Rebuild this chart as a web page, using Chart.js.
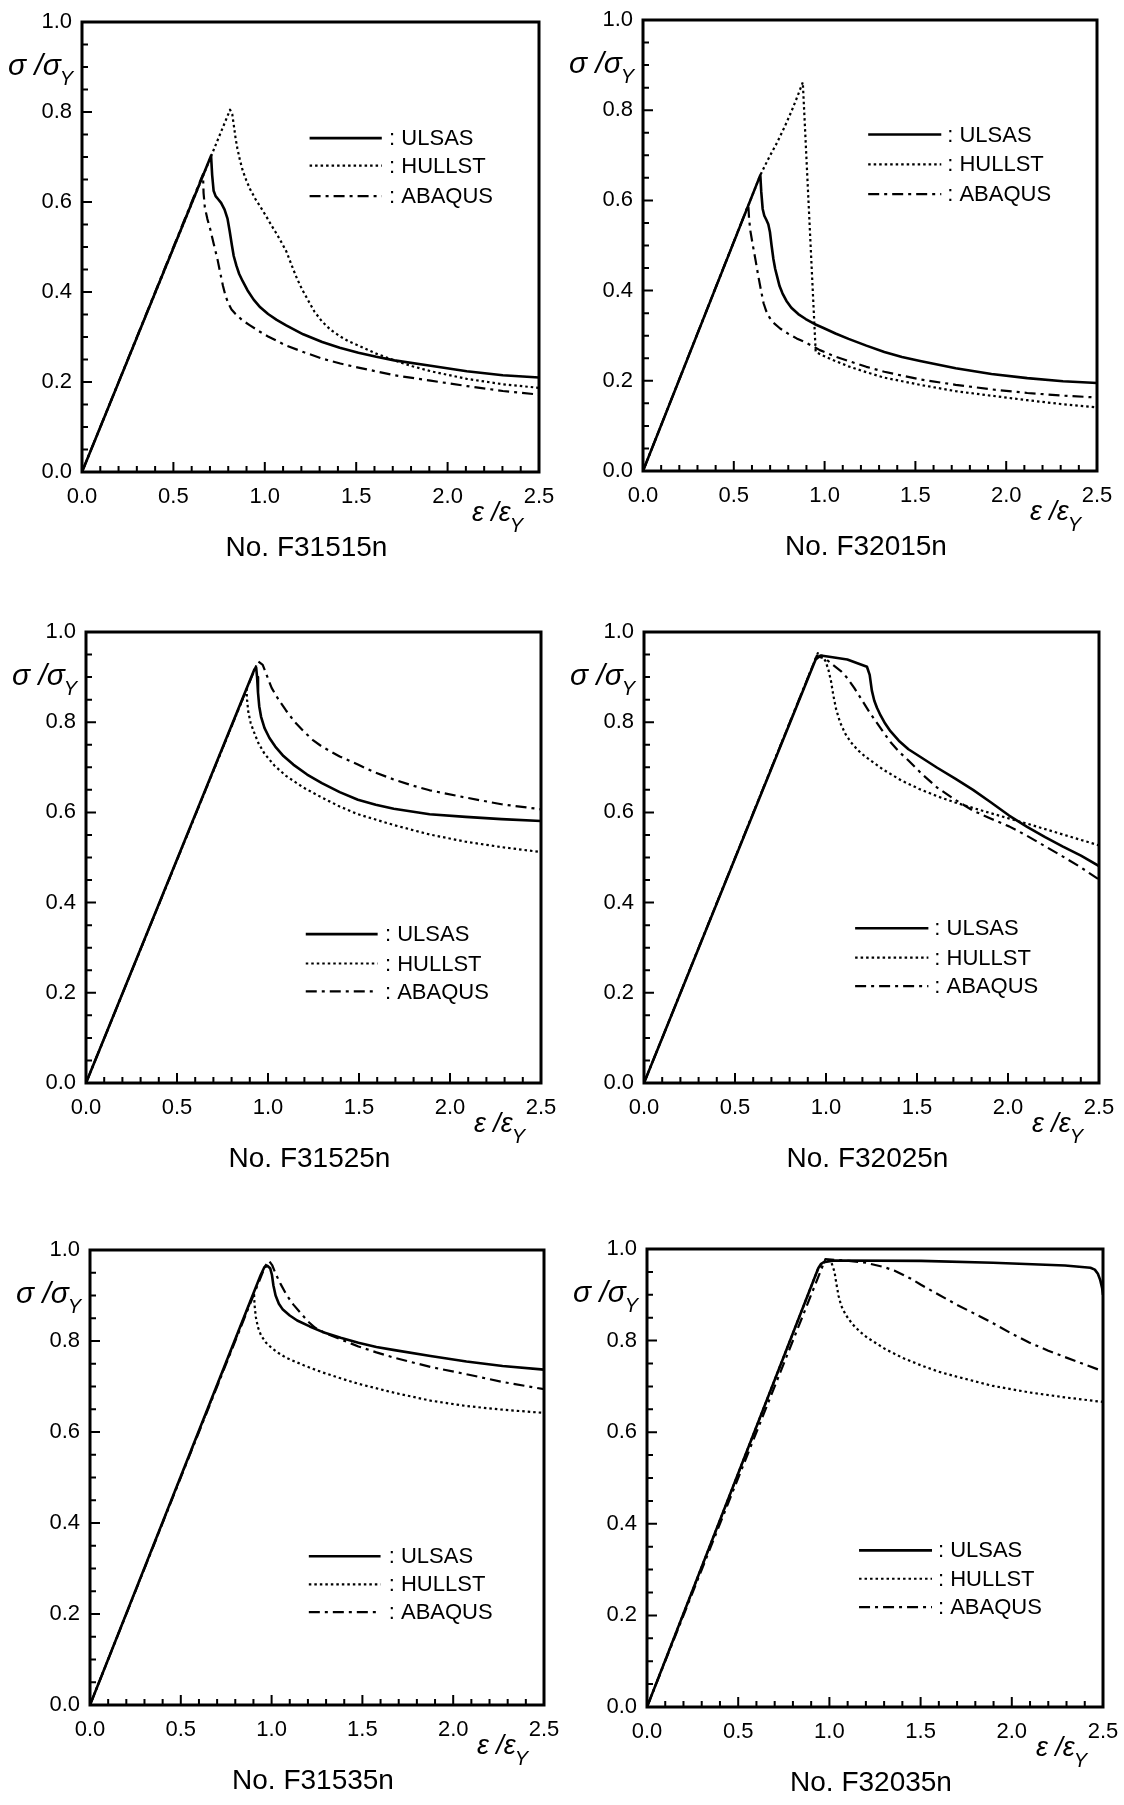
<!DOCTYPE html>
<html><head><meta charset="utf-8">
<script src="https://cdn.jsdelivr.net/npm/chart.js@4.4.1/dist/chart.umd.min.js"></script>
<style>
html,body{margin:0;padding:0;background:#fff;}
body{width:1124px;height:1805px;position:relative;overflow:hidden;}
canvas{position:absolute;}
</style></head><body>
<script>
// ---------- data ----------
const panelTitles = ['No. F31515n','No. F32015n','No. F31525n','No. F32025n','No. F31535n','No. F32035n'];
const seriesNames = ['ULSAS','HULLST','ABAQUS'];
const xTickValues = [0,0.5,1.0,1.5,2.0,2.5];
const yTickValues = [0,0.2,0.4,0.6,0.8,1.0];

const F31515n_ULSAS = [[0,0],[0.706,0.703],[0.712,0.66],[0.720,0.625],[0.731,0.613],[0.745,0.606],[0.761,0.598],[0.780,0.583],[0.796,0.563],[0.808,0.535],[0.820,0.504],[0.830,0.480],[0.845,0.458],[0.860,0.440],[0.879,0.424],[0.905,0.404],[0.939,0.383],[0.975,0.366],[1.018,0.351],[1.065,0.338],[1.117,0.326],[1.210,0.306],[1.314,0.289],[1.410,0.276],[1.512,0.265],[1.610,0.256],[1.709,0.248],[1.907,0.236],[2.105,0.224],[2.302,0.215],[2.5,0.21]];
const F31515n_HULLST = [[0,0],[0.81,0.805],[0.822,0.795],[0.830,0.772],[0.840,0.742],[0.850,0.719],[0.864,0.693],[0.879,0.670],[0.899,0.648],[0.919,0.629],[0.948,0.607],[0.978,0.588],[1.008,0.568],[1.038,0.547],[1.068,0.527],[1.097,0.506],[1.118,0.490],[1.136,0.471],[1.156,0.450],[1.176,0.430],[1.205,0.405],[1.235,0.383],[1.272,0.356],[1.314,0.334],[1.360,0.316],[1.413,0.301],[1.460,0.290],[1.512,0.281],[1.610,0.263],[1.709,0.248],[1.807,0.235],[1.907,0.224],[2.105,0.207],[2.302,0.195],[2.5,0.187]];
const F31515n_ABAQUS = [[0,0],[0.662,0.662],[0.665,0.620],[0.672,0.588],[0.686,0.562],[0.702,0.539],[0.720,0.508],[0.741,0.473],[0.757,0.441],[0.771,0.414],[0.785,0.392],[0.800,0.375],[0.818,0.361],[0.840,0.351],[0.878,0.337],[0.919,0.326],[0.968,0.313],[1.018,0.301],[1.117,0.281],[1.215,0.266],[1.314,0.252],[1.413,0.241],[1.512,0.232],[1.709,0.215],[1.907,0.203],[2.105,0.191],[2.302,0.180],[2.5,0.172]];

const F32015n_ULSAS = [[0,0],[0.646,0.656],[0.651,0.620],[0.659,0.581],[0.668,0.566],[0.679,0.557],[0.690,0.547],[0.699,0.530],[0.708,0.500],[0.718,0.470],[0.728,0.448],[0.738,0.432],[0.752,0.410],[0.768,0.394],[0.790,0.377],[0.817,0.362],[0.855,0.348],[0.896,0.337],[0.944,0.326],[0.994,0.317],[1.060,0.305],[1.132,0.293],[1.230,0.278],[1.329,0.264],[1.426,0.253],[1.526,0.244],[1.722,0.228],[1.919,0.215],[2.116,0.206],[2.313,0.199],[2.5,0.195]];
const F32015n_HULLST = [[0,0],[0.646,0.656],[0.690,0.692],[0.738,0.728],[0.780,0.763],[0.817,0.797],[0.850,0.830],[0.880,0.862],[0.951,0.264],[0.990,0.256],[1.034,0.248],[1.132,0.232],[1.230,0.219],[1.329,0.207],[1.526,0.191],[1.722,0.177],[1.919,0.167],[2.116,0.157],[2.313,0.148],[2.5,0.141]];
const F32015n_ABAQUS = [[0,0],[0.58,0.59],[0.584,0.560],[0.591,0.533],[0.605,0.500],[0.620,0.467],[0.635,0.432],[0.650,0.400],[0.664,0.372],[0.679,0.354],[0.697,0.340],[0.718,0.329],[0.755,0.316],[0.797,0.305],[0.846,0.294],[0.896,0.285],[0.974,0.268],[1.050,0.255],[1.132,0.244],[1.230,0.231],[1.329,0.220],[1.526,0.203],[1.722,0.191],[1.919,0.181],[2.116,0.173],[2.313,0.167],[2.5,0.163]];

const F31525n_ULSAS = [[0,0],[0.925,0.917],[0.935,0.921],[0.940,0.900],[0.945,0.866],[0.952,0.835],[0.962,0.812],[0.981,0.787],[1.008,0.765],[1.040,0.746],[1.085,0.725],[1.139,0.706],[1.215,0.684],[1.296,0.665],[1.394,0.645],[1.494,0.628],[1.592,0.617],[1.691,0.608],[1.888,0.596],[2.086,0.590],[2.283,0.585],[2.5,0.581]];
const F31525n_HULLST = [[0,0],[0.882,0.872],[0.885,0.850],[0.892,0.822],[0.905,0.798],[0.922,0.779],[0.948,0.753],[0.981,0.730],[1.035,0.704],[1.099,0.681],[1.195,0.655],[1.296,0.633],[1.394,0.613],[1.494,0.596],[1.691,0.572],[1.888,0.551],[2.086,0.535],[2.283,0.523],[2.5,0.512]];
const F31525n_ABAQUS = [[0,0],[0.945,0.935],[0.971,0.927],[0.995,0.902],[1.020,0.876],[1.058,0.850],[1.099,0.826],[1.148,0.800],[1.198,0.779],[1.245,0.761],[1.296,0.746],[1.394,0.724],[1.494,0.706],[1.592,0.688],[1.691,0.673],[1.790,0.660],[1.888,0.649],[2.086,0.633],[2.283,0.618],[2.5,0.607]];

const F32025n_ULSAS = [[0,0],[0.943,0.939],[0.97,0.948],[1.018,0.945],[1.117,0.939],[1.225,0.923],[1.240,0.905],[1.252,0.870],[1.265,0.848],[1.280,0.832],[1.300,0.815],[1.325,0.797],[1.354,0.780],[1.400,0.759],[1.453,0.740],[1.530,0.720],[1.611,0.699],[1.710,0.675],[1.808,0.650],[1.907,0.622],[2.006,0.593],[2.105,0.568],[2.204,0.545],[2.302,0.524],[2.401,0.504],[2.5,0.481]];
const F32025n_HULLST = [[0,0],[0.955,0.953],[0.980,0.947],[0.998,0.935],[1.014,0.915],[1.028,0.890],[1.040,0.860],[1.055,0.830],[1.077,0.800],[1.105,0.775],[1.136,0.756],[1.175,0.738],[1.215,0.724],[1.314,0.695],[1.413,0.671],[1.512,0.652],[1.610,0.636],[1.709,0.622],[1.807,0.610],[1.907,0.598],[2.105,0.575],[2.302,0.551],[2.5,0.527]];
const F32025n_ABAQUS = [[0,0],[0.949,0.947],[1.000,0.940],[1.038,0.927],[1.080,0.914],[1.117,0.898],[1.155,0.876],[1.196,0.850],[1.236,0.824],[1.275,0.801],[1.315,0.778],[1.354,0.756],[1.400,0.735],[1.453,0.715],[1.530,0.684],[1.611,0.655],[1.710,0.628],[1.808,0.604],[1.907,0.586],[2.006,0.569],[2.105,0.548],[2.204,0.525],[2.302,0.502],[2.401,0.478],[2.5,0.451]];

const F31535n_ULSAS = [[0,0],[0.940,0.945],[0.960,0.962],[0.978,0.965],[0.992,0.960],[1.002,0.945],[1.010,0.922],[1.022,0.900],[1.040,0.882],[1.062,0.869],[1.100,0.856],[1.141,0.845],[1.210,0.832],[1.280,0.820],[1.380,0.807],[1.478,0.796],[1.577,0.787],[1.677,0.780],[1.875,0.767],[2.073,0.755],[2.272,0.745],[2.5,0.737]];
const F31535n_HULLST = [[0,0],[0.903,0.906],[0.906,0.880],[0.913,0.853],[0.925,0.830],[0.942,0.812],[0.970,0.796],[1.002,0.784],[1.040,0.773],[1.081,0.763],[1.180,0.746],[1.280,0.731],[1.380,0.718],[1.478,0.706],[1.677,0.686],[1.875,0.669],[2.073,0.657],[2.272,0.649],[2.5,0.642]];
const F31535n_ABAQUS = [[0,0],[0.965,0.965],[0.986,0.976],[1.004,0.966],[1.022,0.948],[1.050,0.925],[1.081,0.902],[1.120,0.880],[1.161,0.861],[1.200,0.843],[1.240,0.829],[1.310,0.815],[1.379,0.804],[1.478,0.788],[1.577,0.775],[1.677,0.763],[1.875,0.743],[2.073,0.727],[2.272,0.710],[2.5,0.694]];

const F32035n_ULSAS = [[0,0],[0.939,0.958],[0.953,0.967],[0.968,0.971],[1.028,0.975],[1.502,0.974],[1.897,0.970],[2.292,0.964],[2.431,0.959],[2.455,0.955],[2.472,0.946],[2.485,0.932],[2.495,0.915],[2.5,0.9]];
const F32035n_HULLST = [[0,0],[0.939,0.958],[0.988,0.977],[1.010,0.972],[1.028,0.950],[1.038,0.925],[1.050,0.898],[1.065,0.876],[1.090,0.856],[1.126,0.836],[1.166,0.820],[1.206,0.807],[1.304,0.782],[1.403,0.762],[1.502,0.746],[1.600,0.732],[1.700,0.721],[1.897,0.701],[2.095,0.687],[2.292,0.676],[2.5,0.666]];
const F32035n_ABAQUS = [[0,0],[0.978,0.978],[1.107,0.974],[1.200,0.970],[1.304,0.960],[1.355,0.953],[1.403,0.944],[1.452,0.934],[1.502,0.922],[1.600,0.900],[1.700,0.878],[1.800,0.858],[1.897,0.838],[2.000,0.815],[2.095,0.796],[2.200,0.778],[2.292,0.764],[2.400,0.748],[2.5,0.733]];

const panelSeries = [
  [F31515n_ULSAS, F31515n_HULLST, F31515n_ABAQUS],
  [F32015n_ULSAS, F32015n_HULLST, F32015n_ABAQUS],
  [F31525n_ULSAS, F31525n_HULLST, F31525n_ABAQUS],
  [F32025n_ULSAS, F32025n_HULLST, F32025n_ABAQUS],
  [F31535n_ULSAS, F31535n_HULLST, F31535n_ABAQUS],
  [F32035n_ULSAS, F32035n_HULLST, F32035n_ABAQUS]
];

// ---------- layout (pixels) ----------
const panelBoxes = [
  {l:82, t:22, r:539, b:472},
  {l:643, t:20, r:1097, b:471},
  {l:86, t:632, r:541, b:1083},
  {l:644, t:632, r:1099, b:1083},
  {l:90, t:1250, r:544, b:1705},
  {l:647, t:1249, r:1103, b:1707}
];
// legend placement as fractions of plot area
const legendPlaces = [
  {x0:0.498, x1:0.656, xt:0.672, rows:[0.258,0.319,0.387]},
  {x0:0.496, x1:0.657, xt:0.670, rows:[0.254,0.320,0.386]},
  {x0:0.483, x1:0.641, xt:0.657, rows:[0.670,0.735,0.797]},
  {x0:0.464, x1:0.625, xt:0.638, rows:[0.657,0.722,0.785]},
  {x0:0.482, x1:0.640, xt:0.658, rows:[0.673,0.735,0.796]},
  {x0:0.465, x1:0.625, xt:0.638, rows:[0.658,0.720,0.782]}
];
const lineStyles = [
  {width:2.6, dash:[]},
  {width:2.2, dash:[2.5,3]},
  {width:2.2, dash:[11,5,3,5]}
];
const FONT = '"Liberation Sans", Arial, Helvetica, sans-serif';

Chart.defaults.font.family = FONT;
Chart.defaults.color = '#000';

const decor = {
  id: 'decor',
  afterDraw(chart, args, o) {
    const {ctx, chartArea: a} = chart;
    const xs = chart.scales.x, ys = chart.scales.y;
    const w = a.right - a.left, h = a.bottom - a.top;
    ctx.save();
    ctx.strokeStyle = '#000'; ctx.fillStyle = '#000';
    ctx.setLineDash([]);
    ctx.lineWidth = 2;
    ctx.beginPath();
    for (let i = 0; i <= 25; i++) {
      const px = xs.getPixelForValue(i / 10);
      const len = i % 5 === 0 ? 10 : 6;
      ctx.moveTo(px, a.bottom); ctx.lineTo(px, a.bottom - len);
    }
    for (let i = 0; i <= 20; i++) {
      const py = ys.getPixelForValue(i / 20);
      const len = i % 4 === 0 ? 10 : 6;
      ctx.moveTo(a.left, py); ctx.lineTo(a.left + len, py);
    }
    ctx.stroke();
    ctx.lineWidth = 3;
    ctx.strokeRect(a.left, a.top, w, h);

    // legend
    const L = o.legend;
    seriesNames.forEach((name, i) => {
      const yy = a.top + L.rows[i] * h;
      ctx.lineWidth = lineStyles[i].width;
      ctx.setLineDash(lineStyles[i].dash);
      ctx.beginPath();
      ctx.moveTo(a.left + L.x0 * w, yy); ctx.lineTo(a.left + L.x1 * w, yy);
      ctx.stroke();
      ctx.setLineDash([]);
      ctx.font = '22px ' + FONT;
      ctx.textAlign = 'left'; ctx.textBaseline = 'middle';
      ctx.fillText(': ' + name, a.left + L.xt * w, yy + 1);
    });

    // title
    ctx.font = '28px ' + FONT;
    ctx.textAlign = 'center'; ctx.textBaseline = 'middle';
    ctx.fillText(o.title, (a.left + a.right) / 2 - 4, a.bottom + 76);

    // y label  σ/σY
    ctx.textAlign = 'left'; ctx.textBaseline = 'alphabetic';
    ctx.font = 'italic 30px ' + FONT;
    const yl = 'σ /σ';
    const ylx = a.left - 74, yly = a.top + 53;
    ctx.fillText(yl, ylx, yly);
    const ylw = ctx.measureText(yl).width;
    ctx.font = 'italic 20px ' + FONT;
    ctx.fillText('Y', ylx + ylw - 1, yly + 10);

    // x label  ε/εY
    ctx.font = 'italic 27px ' + FONT;
    const xl = 'ε /ε';
    const xlx = a.right - 67, xly = a.bottom + 49;
    ctx.fillText(xl, xlx, xly);
    const xlw = ctx.measureText(xl).width;
    ctx.font = 'italic 20px ' + FONT;
    ctx.fillText('Y', xlx + xlw - 1, xly + 11);
    ctx.restore();
  }
};

const YW = 80, XH = 40, PT = 30, PR = 40, PB = 100;

panelBoxes.forEach((box, p) => {
  const cv = document.createElement('canvas');
  const cw = (box.r - box.l) + YW + PR;
  const ch = (box.b - box.t) + PT + PB;
  cv.width = cw; cv.height = ch;
  cv.style.width = cw + 'px'; cv.style.height = ch + 'px';
  cv.style.left = (box.l - YW) + 'px';
  cv.style.top = (box.t - PT) + 'px';
  document.body.appendChild(cv);

  const datasets = panelSeries[p].map((pts, i) => ({
    label: seriesNames[i],
    data: pts.map(([x, y]) => ({x, y})),
    borderColor: '#000',
    borderWidth: lineStyles[i].width,
    borderDash: lineStyles[i].dash,
    borderJoinStyle: 'round',
    pointRadius: 0,
    fill: false,
    tension: 0
  }));

  new Chart(cv, {
    type: 'line',
    data: {datasets},
    options: {
      responsive: false,
      animation: false,
      devicePixelRatio: 1,
      layout: {padding: {left: 0, top: PT, right: PR, bottom: PB - XH}},
      plugins: {
        legend: {display: false},
        tooltip: {enabled: false},
        decor: {legend: legendPlaces[p], title: panelTitles[p]}
      },
      scales: {
        x: {
          type: 'linear', min: 0, max: 2.5,
          grid: {display: false, drawTicks: false},
          border: {display: false},
          afterFit: s => { s.height = XH; },
          afterBuildTicks: s => { s.ticks = xTickValues.map(v => ({value: v})); },
          ticks: {autoSkip: false, maxRotation: 0, padding: 12, font: {size: 22},
                  callback: v => Number(v).toFixed(1)}
        },
        y: {
          type: 'linear', min: 0, max: 1,
          grid: {display: false, drawTicks: false},
          border: {display: false},
          afterFit: s => { s.width = YW; },
          afterBuildTicks: s => { s.ticks = yTickValues.map(v => ({value: v})); },
          ticks: {autoSkip: false, padding: 10, font: {size: 22},
                  callback: v => Number(v).toFixed(1)}
        }
      }
    },
    plugins: [decor]
  });
});
</script>
</body></html>
